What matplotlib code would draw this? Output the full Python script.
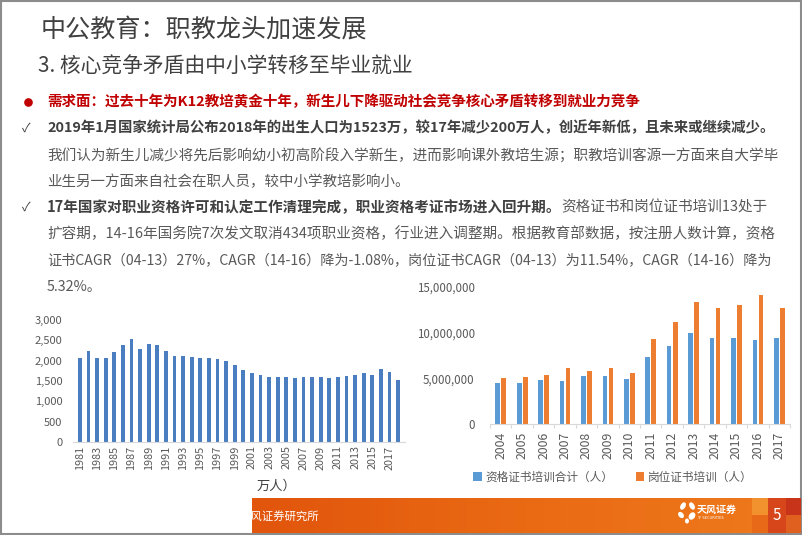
import numpy as np
import matplotlib
matplotlib.use("Agg")
import matplotlib.pyplot as plt
from matplotlib.font_manager import FontProperties
from matplotlib.patches import Rectangle, Ellipse
from matplotlib.colors import LinearSegmentedColormap
from matplotlib.ticker import FuncFormatter

FAM = ['Noto Sans CJK SC', 'DejaVu Sans']
plt.rcParams['font.family'] = FAM

# ---------------- data ----------------
birth_years = list(range(1981, 2019))
births = [2070, 2240, 2060, 2060, 2205, 2390, 2525, 2290, 2410, 2375,
          2250, 2110, 2110, 2095, 2055, 2055, 2030, 1985, 1900, 1765,
          1700, 1640, 1595, 1590, 1610, 1585, 1590, 1600, 1605, 1585,
          1600, 1635, 1640, 1685, 1655, 1786, 1723, 1523]
cert_years = list(range(2004, 2018))
cert_total = [4.48e6, 4.48e6, 4.81e6, 4.70e6, 5.24e6, 5.21e6, 4.92e6,
              7.32e6, 8.59e6, 9.98e6, 9.39e6, 9.43e6, 9.17e6, 9.47e6]
post_cert = [5.02e6, 5.17e6, 5.32e6, 6.12e6, 5.79e6, 6.08e6, 5.61e6,
             9.36e6, 11.14e6, 13.33e6, 12.74e6, 13.03e6, 14.16e6, 12.67e6]
legend_labels = ['资格证书培训合计（人）', '岗位证书培训（人）']

W, H = 802, 535
fig = plt.figure(figsize=(W / 100, H / 100), dpi=100)
fig.patch.set_facecolor('white')

# overlay in pixel coordinates
ov = fig.add_axes([0, 0, 1, 1])
ov.set_xlim(0, W)
ov.set_ylim(H, 0)
ov.axis('off')

renderer = fig.canvas.get_renderer()


def fp(size, weight='normal'):
    return FontProperties(family=FAM, size=size, weight=weight)


def adv(s, prop):
    w1, _, _ = renderer.get_text_width_height_descent('中' + s + '中', prop, ismath=False)
    w0, _, _ = renderer.get_text_width_height_descent('中中', prop, ismath=False)
    return w1 - w0


def draw_line(y, segs, x0=47, right=None, size=10.8):
    total = sum(adv(s, fp(size, w)) for s, w, c in segs)
    if right is not None:
        size = size * (right - x0) / total
    x = x0
    for s, w, c in segs:
        p = fp(size, w)
        ov.text(x, y, s, fontproperties=p, color=c, va='center', ha='left')
        x += adv(s, p)


DARK = '#404040'
GRAY = '#595959'
RED = '#C00000'

# border
ov.add_patch(Rectangle((0.8, 0.8), W - 1.6, H - 1.6, fill=False, ec='#8C8C8C', lw=1.5))

# titles
draw_line(30, [('中公教育：职教龙头加速发展', 'light', DARK)], x0=41, right=367, size=18)
draw_line(67, [('3. 核心竞争矛盾由中小学转移至毕业就业', 'light', DARK)], x0=38, right=414, size=14)

# bullet lines
ov.plot([28], [102], 'o', ms=5.2, color=RED)
draw_line(102, [('需求面：过去十年为K12教培黄金十年，新生儿下降驱动社会竞争核心矛盾转移到就业力竞争', 'bold', RED)],
          right=642)
ov.text(26, 128, '✓', fontsize=9, color=DARK, va='center', ha='center')
draw_line(128, [('2019年1月国家统计局公布2018年的出生人口为1523万，较17年减少200万人，创近年新低，且未来或继续减少。', 'bold', DARK)],
          right=775)
draw_line(155, [('我们认为新生儿减少将先后影响幼小初高阶段入学新生，进而影响课外教培生源；职教培训客源一方面来自大学毕', 'normal', GRAY)],
          right=778)
draw_line(182, [('业生另一方面来自社会在职人员，较中小学教培影响小。', 'normal', GRAY)], right=409)
ov.text(26, 207, '✓', fontsize=9, color=DARK, va='center', ha='center')
draw_line(207, [('17年国家对职业资格许可和认定工作清理完成，职业资格考证市场进入回升期。', 'bold', DARK),
                ('资格证书和岗位证书培训13处于', 'normal', GRAY)], right=767)
draw_line(234, [('扩容期，14-16年国务院7次发文取消434项职业资格，行业进入调整期。根据教育部数据，按注册人数计算，资格', 'normal', GRAY)],
          right=775)
draw_line(260, [('证书CAGR（04-13）27%，CAGR（14-16）降为-1.08%，岗位证书CAGR（04-13）为11.54%，CAGR（14-16）降为', 'normal', GRAY)],
          right=773)
draw_line(287, [('5.32%。', 'normal', GRAY)], size=10.3)

# unit label under left chart
ov.text(257, 486, '万人）', fontsize=9.5, color=DARK, va='center', ha='left')

# footer band
cmap = LinearSegmentedColormap.from_list('ft', ['#E1550C', '#EA6A14', '#EE7A1C'])
grad = np.linspace(0, 1, 256).reshape(1, -1)
ov.imshow(grad, extent=(252, W - 1.5, 533, 498), aspect='auto', cmap=cmap, zorder=1)
footer_rect = Rectangle((252, 498), W - 253.5, 35, fill=False, lw=0, transform=ov.transData)
ov.add_patch(footer_rect)
blocks = [((752, 498, 16, 17), '#F2922E'), ((752, 515, 16, 18), '#E86A18'),
          ((768, 498, 18, 35), '#D6461A'), ((786, 498, 14.5, 17), '#C8341A'),
          ((786, 515, 14.5, 18), '#E06020')]
for (x, y, w, h), c in blocks:
    ov.add_patch(Rectangle((x, y), w, h, color=c, lw=0, zorder=2))
t = ov.text(240, 516, '天风证券研究所', fontsize=8.2, color='white', va='center', ha='left', zorder=3)
t.set_clip_path(footer_rect)
ov.text(777, 515, '5', fontsize=11, color='white', va='center', ha='center', zorder=3)
# logo
for (cx, cy, w, h, a) in [(683, 506, 5, 8, 30), (692, 506, 5, 8, -30), (681, 515, 5, 7, -40),
                          (692, 516, 6, 8, 35), (687, 521, 4, 5, 0)]:
    ov.add_patch(Ellipse((cx, cy), w, h, angle=a, color='white', lw=0, zorder=3))
ov.text(697, 510, '天风证券', fontsize=7.2, color='white', fontweight='bold', va='center', ha='left', zorder=3)
ov.text(697, 518, 'TF SECURITIES', fontsize=2.6, color='white', va='center', ha='left', zorder=3,
        family='DejaVu Sans')

comma = FuncFormatter(lambda v, p: f'{int(v):,}')

# ---------------- left chart ----------------
ax1 = fig.add_axes([73 / W, 1 - 442 / H, 332 / W, 122 / H])
ax1.set_facecolor('none')
x1 = np.arange(len(birth_years))
ax1.bar(x1, births, width=0.43, color='#4A7EC0')
ax1.set_xlim(-0.8, len(birth_years) - 0.2)
ax1.set_ylim(0, 3000)
ax1.set_yticks(np.arange(0, 3001, 500))
ax1.yaxis.set_major_formatter(comma)
ax1.set_xticks(x1[::2])
ax1.set_xticklabels([str(y) for y in birth_years[::2]], rotation=90)
ax1.tick_params(axis='y', length=0, pad=7.5, labelsize=8.0, labelcolor=GRAY)
ax1.tick_params(axis='x', length=0, pad=2.5, labelsize=7.8, labelcolor=GRAY)
for s in ['top', 'right', 'left']:
    ax1.spines[s].set_visible(False)
ax1.spines['bottom'].set_color('#D9D9D9')
ax1.spines['bottom'].set_linewidth(0.8)

# ---------------- right chart ----------------
ax2 = fig.add_axes([490 / W, 1 - 424 / H, 300 / W, 137 / H])
ax2.set_facecolor('none')
x2 = np.arange(len(cert_years))
b1 = ax2.bar(x2 - 0.14, cert_total, width=0.22, color='#5B9BD5', label=legend_labels[0])
b2 = ax2.bar(x2 + 0.14, post_cert, width=0.22, color='#ED7D31', label=legend_labels[1])
ax2.set_xlim(-0.5, len(cert_years) - 0.5)
ax2.set_ylim(0, 15e6)
ax2.set_yticks([0, 5e6, 10e6, 15e6])
ax2.yaxis.set_major_formatter(comma)
ax2.set_xticks(x2)
ax2.set_xticklabels([str(y) for y in cert_years], rotation=90)
ax2.set_xticks(np.arange(-0.5, len(cert_years), 1), minor=True)
ax2.tick_params(axis='y', length=0, pad=11, labelsize=8.3, labelcolor=GRAY)
ax2.tick_params(axis='x', which='major', length=0, pad=5.5, labelsize=8.8, labelcolor=GRAY)
ax2.tick_params(axis='x', which='minor', length=3, color='#D9D9D9', width=0.8)
for s in ['top', 'right', 'left']:
    ax2.spines[s].set_visible(False)
ax2.spines['bottom'].set_color('#D9D9D9')
ax2.spines['bottom'].set_linewidth(0.8)

fig.legend(handles=[b1, b2], loc='center', bbox_to_anchor=(613 / W, 1 - 477 / H),
           ncol=2, frameon=False, fontsize=8.4, handlelength=0.7, handleheight=0.7,
           handletextpad=0.3, columnspacing=2.0, labelcolor=GRAY, borderpad=0)

fig.savefig('out.png', dpi=100)
